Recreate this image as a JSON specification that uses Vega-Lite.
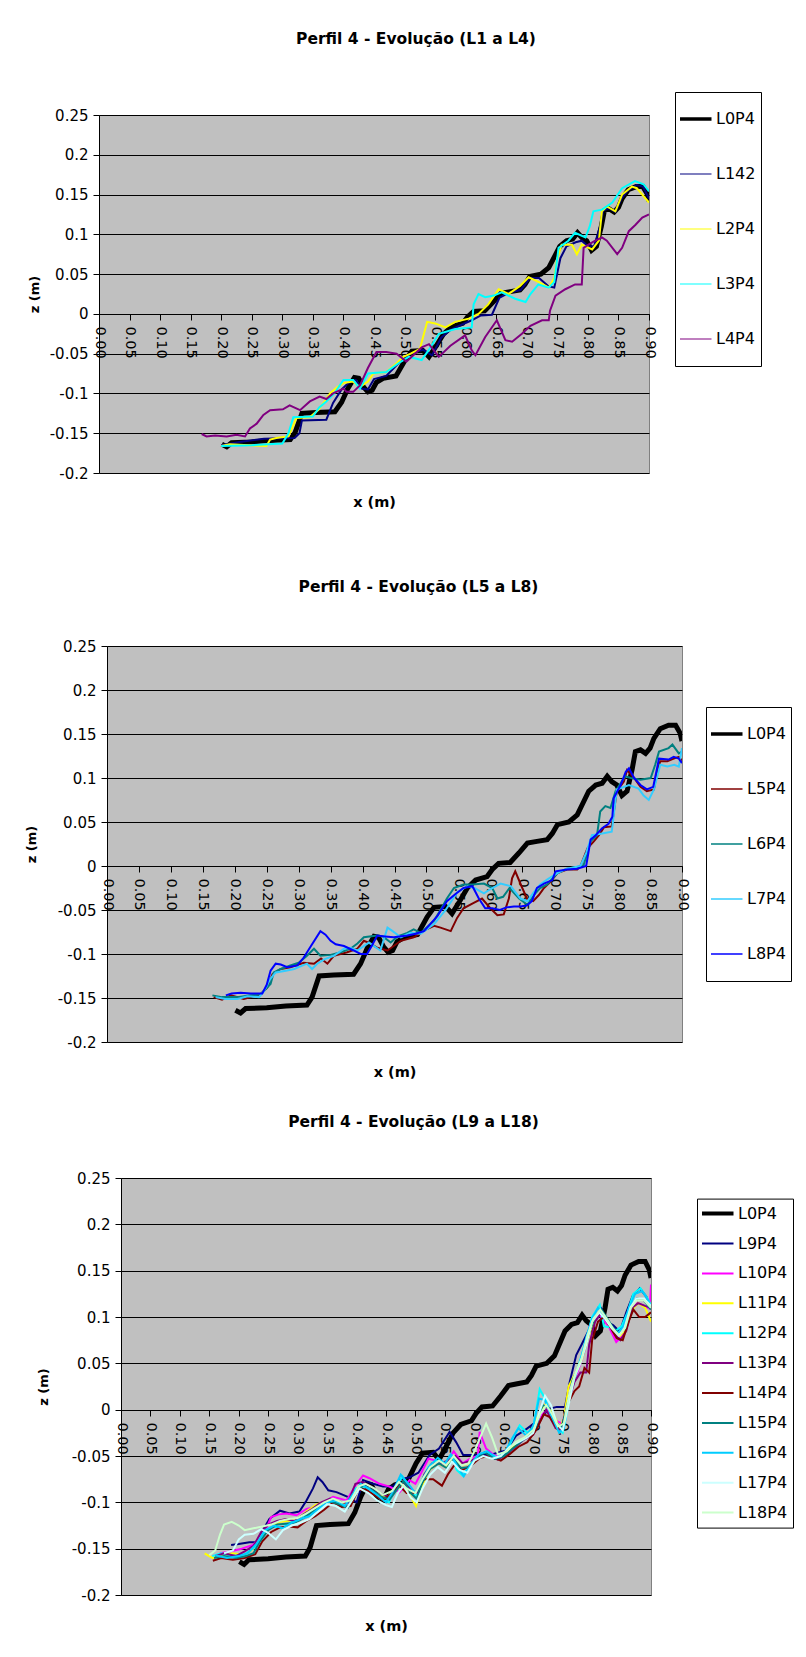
{
"$schema":"https://vega.github.io/schema/vega-lite/v6.json",
"padding":{"left":5,"top":31,"right":0,"bottom":0},
"background":"white",
"config":{
 "view":{"stroke":null},
 "font":"DejaVu Sans",
 "axis":{"labelFont":"DejaVu Sans","labelColor":"black","domainColor":"black","tickColor":"black","tickSize":6,"titleColor":"black","titleFont":"DejaVu Sans","titleFontWeight":"bold","labelOverlap":false,"labelFlush":false,"labelBound":false},
 "axisY":{"labelFontSize":15,"grid":true,"gridColor":"black","gridOpacity":1,"labelPadding":5,"titleFontSize":13},
 "axisX":{"labelFontSize":14.5,"grid":false,"labelAngle":90,"labelPadding":6,"titleFontSize":14.5,"titleBaseline":"alphabetic"},
 "legend":{"orient":"none","symbolType":"stroke","symbolSize":1225,"symbolOffset":6,"padding":5,"labelFont":"DejaVu Sans","labelFontSize":16,"labelColor":"black","labelOffset":14,"strokeColor":"black","fillColor":"white"},
 "title":{"font":"DejaVu Sans","fontSize":15.5,"fontWeight":"bold","color":"black","anchor":"middle","frame":"group"}
},
"datasets":{"d":[
{"s":"L0P4","x":0.201,"z":-0.164},{"s":"L0P4","x":0.209,"z":-0.167},{"s":"L0P4","x":0.217,"z":-0.162},{"s":"L0P4","x":0.25,"z":-0.161},{"s":"L0P4","x":0.28,"z":-0.159},{"s":"L0P4","x":0.313,"z":-0.158},{"s":"L0P4","x":0.321,"z":-0.149},{"s":"L0P4","x":0.332,"z":-0.125},{"s":"L0P4","x":0.355,"z":-0.124},{"s":"L0P4","x":0.386,"z":-0.123},{"s":"L0P4","x":0.397,"z":-0.111},{"s":"L0P4","x":0.407,"z":-0.094},{"s":"L0P4","x":0.418,"z":-0.08},{"s":"L0P4","x":0.425,"z":-0.081},{"s":"L0P4","x":0.433,"z":-0.092},{"s":"L0P4","x":0.44,"z":-0.098},{"s":"L0P4","x":0.447,"z":-0.096},{"s":"L0P4","x":0.454,"z":-0.086},{"s":"L0P4","x":0.465,"z":-0.081},{"s":"L0P4","x":0.486,"z":-0.078},{"s":"L0P4","x":0.501,"z":-0.058},{"s":"L0P4","x":0.512,"z":-0.047},{"s":"L0P4","x":0.53,"z":-0.046},{"s":"L0P4","x":0.54,"z":-0.054},{"s":"L0P4","x":0.552,"z":-0.04},{"s":"L0P4","x":0.564,"z":-0.025},{"s":"L0P4","x":0.577,"z":-0.016},{"s":"L0P4","x":0.595,"z":-0.012},{"s":"L0P4","x":0.603,"z":-0.004},{"s":"L0P4","x":0.613,"z":0.003},{"s":"L0P4","x":0.631,"z":0.004},{"s":"L0P4","x":0.645,"z":0.015},{"s":"L0P4","x":0.658,"z":0.026},{"s":"L0P4","x":0.673,"z":0.028},{"s":"L0P4","x":0.689,"z":0.03},{"s":"L0P4","x":0.697,"z":0.037},{"s":"L0P4","x":0.705,"z":0.047},{"s":"L0P4","x":0.723,"z":0.05},{"s":"L0P4","x":0.736,"z":0.058},{"s":"L0P4","x":0.746,"z":0.073},{"s":"L0P4","x":0.754,"z":0.085},{"s":"L0P4","x":0.765,"z":0.092},{"s":"L0P4","x":0.775,"z":0.094},{"s":"L0P4","x":0.783,"z":0.102},{"s":"L0P4","x":0.79,"z":0.096},{"s":"L0P4","x":0.798,"z":0.092},{"s":"L0P4","x":0.806,"z":0.08},{"s":"L0P4","x":0.814,"z":0.085},{"s":"L0P4","x":0.822,"z":0.11},{"s":"L0P4","x":0.827,"z":0.13},{"s":"L0P4","x":0.835,"z":0.132},{"s":"L0P4","x":0.843,"z":0.128},{"s":"L0P4","x":0.85,"z":0.134},{"s":"L0P4","x":0.856,"z":0.145},{"s":"L0P4","x":0.866,"z":0.156},{"s":"L0P4","x":0.879,"z":0.16},{"s":"L0P4","x":0.89,"z":0.16},{"s":"L0P4","x":0.897,"z":0.151},{"s":"L0P4","x":0.9,"z":0.142},
{"s":"L142","x":0.2,"z":-0.165},{"s":"L142","x":0.23,"z":-0.161},{"s":"L142","x":0.27,"z":-0.157},{"s":"L142","x":0.32,"z":-0.156},{"s":"L142","x":0.328,"z":-0.15},{"s":"L142","x":0.332,"z":-0.134},{"s":"L142","x":0.372,"z":-0.133},{"s":"L142","x":0.383,"z":-0.112},{"s":"L142","x":0.397,"z":-0.095},{"s":"L142","x":0.408,"z":-0.087},{"s":"L142","x":0.42,"z":-0.083},{"s":"L142","x":0.43,"z":-0.094},{"s":"L142","x":0.44,"z":-0.095},{"s":"L142","x":0.45,"z":-0.082},{"s":"L142","x":0.47,"z":-0.078},{"s":"L142","x":0.49,"z":-0.062},{"s":"L142","x":0.51,"z":-0.05},{"s":"L142","x":0.53,"z":-0.045},{"s":"L142","x":0.545,"z":-0.052},{"s":"L142","x":0.56,"z":-0.03},{"s":"L142","x":0.575,"z":-0.02},{"s":"L142","x":0.595,"z":-0.013},{"s":"L142","x":0.61,"z":-0.008},{"s":"L142","x":0.625,"z":-0.002},{"s":"L142","x":0.643,"z":-0.001},{"s":"L142","x":0.655,"z":0.02},{"s":"L142","x":0.672,"z":0.027},{"s":"L142","x":0.69,"z":0.03},{"s":"L142","x":0.705,"z":0.045},{"s":"L142","x":0.72,"z":0.045},{"s":"L142","x":0.735,"z":0.035},{"s":"L142","x":0.745,"z":0.033},{"s":"L142","x":0.755,"z":0.07},{"s":"L142","x":0.765,"z":0.085},{"s":"L142","x":0.78,"z":0.09},{"s":"L142","x":0.79,"z":0.092},{"s":"L142","x":0.8,"z":0.085},{"s":"L142","x":0.81,"z":0.085},{"s":"L142","x":0.82,"z":0.11},{"s":"L142","x":0.825,"z":0.13},{"s":"L142","x":0.835,"z":0.133},{"s":"L142","x":0.845,"z":0.128},{"s":"L142","x":0.855,"z":0.145},{"s":"L142","x":0.865,"z":0.155},{"s":"L142","x":0.88,"z":0.162},{"s":"L142","x":0.89,"z":0.16},{"s":"L142","x":0.9,"z":0.145},
{"s":"L2P4","x":0.2,"z":-0.166},{"s":"L2P4","x":0.214,"z":-0.164},{"s":"L2P4","x":0.245,"z":-0.165},{"s":"L2P4","x":0.274,"z":-0.166},{"s":"L2P4","x":0.28,"z":-0.158},{"s":"L2P4","x":0.29,"z":-0.156},{"s":"L2P4","x":0.31,"z":-0.154},{"s":"L2P4","x":0.318,"z":-0.14},{"s":"L2P4","x":0.323,"z":-0.131},{"s":"L2P4","x":0.345,"z":-0.13},{"s":"L2P4","x":0.36,"z":-0.12},{"s":"L2P4","x":0.378,"z":-0.1},{"s":"L2P4","x":0.39,"z":-0.092},{"s":"L2P4","x":0.4,"z":-0.087},{"s":"L2P4","x":0.415,"z":-0.085},{"s":"L2P4","x":0.427,"z":-0.092},{"s":"L2P4","x":0.44,"z":-0.085},{"s":"L2P4","x":0.449,"z":-0.075},{"s":"L2P4","x":0.47,"z":-0.073},{"s":"L2P4","x":0.487,"z":-0.062},{"s":"L2P4","x":0.498,"z":-0.054},{"s":"L2P4","x":0.51,"z":-0.05},{"s":"L2P4","x":0.525,"z":-0.044},{"s":"L2P4","x":0.53,"z":-0.03},{"s":"L2P4","x":0.537,"z":-0.01},{"s":"L2P4","x":0.55,"z":-0.012},{"s":"L2P4","x":0.567,"z":-0.017},{"s":"L2P4","x":0.583,"z":-0.01},{"s":"L2P4","x":0.605,"z":-0.006},{"s":"L2P4","x":0.621,"z":0.0},{"s":"L2P4","x":0.637,"z":0.012},{"s":"L2P4","x":0.654,"z":0.031},{"s":"L2P4","x":0.67,"z":0.025},{"s":"L2P4","x":0.689,"z":0.035},{"s":"L2P4","x":0.703,"z":0.046},{"s":"L2P4","x":0.72,"z":0.04},{"s":"L2P4","x":0.736,"z":0.033},{"s":"L2P4","x":0.745,"z":0.045},{"s":"L2P4","x":0.749,"z":0.067},{"s":"L2P4","x":0.757,"z":0.087},{"s":"L2P4","x":0.774,"z":0.087},{"s":"L2P4","x":0.782,"z":0.075},{"s":"L2P4","x":0.79,"z":0.087},{"s":"L2P4","x":0.807,"z":0.081},{"s":"L2P4","x":0.818,"z":0.092},{"s":"L2P4","x":0.823,"z":0.129},{"s":"L2P4","x":0.831,"z":0.135},{"s":"L2P4","x":0.845,"z":0.129},{"s":"L2P4","x":0.856,"z":0.15},{"s":"L2P4","x":0.872,"z":0.16},{"s":"L2P4","x":0.88,"z":0.158},{"s":"L2P4","x":0.891,"z":0.148},{"s":"L2P4","x":0.9,"z":0.14},
{"s":"L3P4","x":0.2,"z":-0.166},{"s":"L3P4","x":0.25,"z":-0.165},{"s":"L3P4","x":0.3,"z":-0.163},{"s":"L3P4","x":0.31,"z":-0.15},{"s":"L3P4","x":0.318,"z":-0.13},{"s":"L3P4","x":0.35,"z":-0.129},{"s":"L3P4","x":0.36,"z":-0.118},{"s":"L3P4","x":0.372,"z":-0.11},{"s":"L3P4","x":0.385,"z":-0.1},{"s":"L3P4","x":0.4,"z":-0.083},{"s":"L3P4","x":0.416,"z":-0.083},{"s":"L3P4","x":0.427,"z":-0.094},{"s":"L3P4","x":0.44,"z":-0.075},{"s":"L3P4","x":0.47,"z":-0.073},{"s":"L3P4","x":0.49,"z":-0.062},{"s":"L3P4","x":0.507,"z":-0.054},{"s":"L3P4","x":0.528,"z":-0.058},{"s":"L3P4","x":0.54,"z":-0.045},{"s":"L3P4","x":0.556,"z":-0.025},{"s":"L3P4","x":0.583,"z":-0.019},{"s":"L3P4","x":0.61,"z":-0.017},{"s":"L3P4","x":0.613,"z":0.012},{"s":"L3P4","x":0.621,"z":0.025},{"s":"L3P4","x":0.632,"z":0.021},{"s":"L3P4","x":0.646,"z":0.023},{"s":"L3P4","x":0.659,"z":0.027},{"s":"L3P4","x":0.681,"z":0.019},{"s":"L3P4","x":0.698,"z":0.015},{"s":"L3P4","x":0.706,"z":0.025},{"s":"L3P4","x":0.719,"z":0.037},{"s":"L3P4","x":0.736,"z":0.033},{"s":"L3P4","x":0.745,"z":0.04},{"s":"L3P4","x":0.752,"z":0.083},{"s":"L3P4","x":0.768,"z":0.092},{"s":"L3P4","x":0.779,"z":0.102},{"s":"L3P4","x":0.796,"z":0.096},{"s":"L3P4","x":0.803,"z":0.11},{"s":"L3P4","x":0.809,"z":0.129},{"s":"L3P4","x":0.823,"z":0.131},{"s":"L3P4","x":0.84,"z":0.14},{"s":"L3P4","x":0.856,"z":0.158},{"s":"L3P4","x":0.877,"z":0.167},{"s":"L3P4","x":0.891,"z":0.163},{"s":"L3P4","x":0.9,"z":0.154},
{"s":"L4P4","x":0.168,"z":-0.151},{"s":"L4P4","x":0.176,"z":-0.154},{"s":"L4P4","x":0.19,"z":-0.153},{"s":"L4P4","x":0.209,"z":-0.154},{"s":"L4P4","x":0.225,"z":-0.152},{"s":"L4P4","x":0.239,"z":-0.154},{"s":"L4P4","x":0.247,"z":-0.144},{"s":"L4P4","x":0.258,"z":-0.138},{"s":"L4P4","x":0.269,"z":-0.127},{"s":"L4P4","x":0.28,"z":-0.121},{"s":"L4P4","x":0.301,"z":-0.12},{"s":"L4P4","x":0.312,"z":-0.115},{"s":"L4P4","x":0.329,"z":-0.121},{"s":"L4P4","x":0.345,"z":-0.11},{"s":"L4P4","x":0.361,"z":-0.104},{"s":"L4P4","x":0.372,"z":-0.107},{"s":"L4P4","x":0.383,"z":-0.1},{"s":"L4P4","x":0.4,"z":-0.094},{"s":"L4P4","x":0.405,"z":-0.098},{"s":"L4P4","x":0.416,"z":-0.098},{"s":"L4P4","x":0.427,"z":-0.09},{"s":"L4P4","x":0.44,"z":-0.068},{"s":"L4P4","x":0.454,"z":-0.048},{"s":"L4P4","x":0.47,"z":-0.048},{"s":"L4P4","x":0.487,"z":-0.05},{"s":"L4P4","x":0.503,"z":-0.06},{"s":"L4P4","x":0.52,"z":-0.048},{"s":"L4P4","x":0.528,"z":-0.042},{"s":"L4P4","x":0.54,"z":-0.038},{"s":"L4P4","x":0.556,"z":-0.054},{"s":"L4P4","x":0.575,"z":-0.04},{"s":"L4P4","x":0.599,"z":-0.027},{"s":"L4P4","x":0.61,"z":-0.046},{"s":"L4P4","x":0.616,"z":-0.052},{"s":"L4P4","x":0.632,"z":-0.029},{"s":"L4P4","x":0.651,"z":-0.008},{"s":"L4P4","x":0.665,"z":-0.033},{"s":"L4P4","x":0.676,"z":-0.035},{"s":"L4P4","x":0.692,"z":-0.025},{"s":"L4P4","x":0.706,"z":-0.015},{"s":"L4P4","x":0.725,"z":-0.008},{"s":"L4P4","x":0.736,"z":-0.008},{"s":"L4P4","x":0.738,"z":0.004},{"s":"L4P4","x":0.747,"z":0.023},{"s":"L4P4","x":0.763,"z":0.031},{"s":"L4P4","x":0.779,"z":0.037},{"s":"L4P4","x":0.79,"z":0.037},{"s":"L4P4","x":0.793,"z":0.083},{"s":"L4P4","x":0.801,"z":0.087},{"s":"L4P4","x":0.812,"z":0.092},{"s":"L4P4","x":0.823,"z":0.096},{"s":"L4P4","x":0.831,"z":0.092},{"s":"L4P4","x":0.848,"z":0.075},{"s":"L4P4","x":0.856,"z":0.083},{"s":"L4P4","x":0.867,"z":0.104},{"s":"L4P4","x":0.878,"z":0.112},{"s":"L4P4","x":0.889,"z":0.121},{"s":"L4P4","x":0.9,"z":0.125},
{"s":"L5P4","x":0.167,"z":-0.149},{"s":"L5P4","x":0.18,"z":-0.152},{"s":"L5P4","x":0.194,"z":-0.147},{"s":"L5P4","x":0.214,"z":-0.151},{"s":"L5P4","x":0.24,"z":-0.146},{"s":"L5P4","x":0.251,"z":-0.138},{"s":"L5P4","x":0.259,"z":-0.123},{"s":"L5P4","x":0.272,"z":-0.117},{"s":"L5P4","x":0.287,"z":-0.115},{"s":"L5P4","x":0.308,"z":-0.11},{"s":"L5P4","x":0.324,"z":-0.111},{"s":"L5P4","x":0.335,"z":-0.105},{"s":"L5P4","x":0.345,"z":-0.111},{"s":"L5P4","x":0.355,"z":-0.102},{"s":"L5P4","x":0.376,"z":-0.098},{"s":"L5P4","x":0.392,"z":-0.094},{"s":"L5P4","x":0.402,"z":-0.085},{"s":"L5P4","x":0.412,"z":-0.088},{"s":"L5P4","x":0.423,"z":-0.093},{"s":"L5P4","x":0.439,"z":-0.096},{"s":"L5P4","x":0.46,"z":-0.085},{"s":"L5P4","x":0.48,"z":-0.081},{"s":"L5P4","x":0.5,"z":-0.072},{"s":"L5P4","x":0.512,"z":-0.068},{"s":"L5P4","x":0.522,"z":-0.07},{"s":"L5P4","x":0.538,"z":-0.074},{"s":"L5P4","x":0.548,"z":-0.059},{"s":"L5P4","x":0.558,"z":-0.048},{"s":"L5P4","x":0.574,"z":-0.042},{"s":"L5P4","x":0.587,"z":-0.037},{"s":"L5P4","x":0.6,"z":-0.048},{"s":"L5P4","x":0.611,"z":-0.056},{"s":"L5P4","x":0.621,"z":-0.055},{"s":"L5P4","x":0.629,"z":-0.037},{"s":"L5P4","x":0.634,"z":-0.014},{"s":"L5P4","x":0.639,"z":-0.006},{"s":"L5P4","x":0.65,"z":-0.025},{"s":"L5P4","x":0.658,"z":-0.038},{"s":"L5P4","x":0.667,"z":-0.04},{"s":"L5P4","x":0.676,"z":-0.033},{"s":"L5P4","x":0.684,"z":-0.025},{"s":"L5P4","x":0.694,"z":-0.018},{"s":"L5P4","x":0.705,"z":-0.008},{"s":"L5P4","x":0.72,"z":-0.004},{"s":"L5P4","x":0.736,"z":-0.004},{"s":"L5P4","x":0.741,"z":0.0},{"s":"L5P4","x":0.746,"z":0.009},{"s":"L5P4","x":0.752,"z":0.02},{"s":"L5P4","x":0.762,"z":0.028},{"s":"L5P4","x":0.77,"z":0.035},{"s":"L5P4","x":0.778,"z":0.044},{"s":"L5P4","x":0.79,"z":0.045},{"s":"L5P4","x":0.798,"z":0.085},{"s":"L5P4","x":0.809,"z":0.096},{"s":"L5P4","x":0.814,"z":0.109},{"s":"L5P4","x":0.825,"z":0.1},{"s":"L5P4","x":0.835,"z":0.09},{"s":"L5P4","x":0.845,"z":0.085},{"s":"L5P4","x":0.856,"z":0.087},{"s":"L5P4","x":0.861,"z":0.107},{"s":"L5P4","x":0.866,"z":0.119},{"s":"L5P4","x":0.877,"z":0.119},{"s":"L5P4","x":0.887,"z":0.122},{"s":"L5P4","x":0.895,"z":0.124},{"s":"L5P4","x":0.9,"z":0.12},
{"s":"L6P4","x":0.165,"z":-0.147},{"s":"L6P4","x":0.18,"z":-0.149},{"s":"L6P4","x":0.204,"z":-0.149},{"s":"L6P4","x":0.225,"z":-0.147},{"s":"L6P4","x":0.24,"z":-0.146},{"s":"L6P4","x":0.256,"z":-0.134},{"s":"L6P4","x":0.261,"z":-0.121},{"s":"L6P4","x":0.272,"z":-0.117},{"s":"L6P4","x":0.287,"z":-0.113},{"s":"L6P4","x":0.3,"z":-0.11},{"s":"L6P4","x":0.313,"z":-0.102},{"s":"L6P4","x":0.324,"z":-0.094},{"s":"L6P4","x":0.334,"z":-0.102},{"s":"L6P4","x":0.35,"z":-0.101},{"s":"L6P4","x":0.366,"z":-0.098},{"s":"L6P4","x":0.381,"z":-0.094},{"s":"L6P4","x":0.392,"z":-0.088},{"s":"L6P4","x":0.402,"z":-0.081},{"s":"L6P4","x":0.423,"z":-0.079},{"s":"L6P4","x":0.432,"z":-0.08},{"s":"L6P4","x":0.444,"z":-0.087},{"s":"L6P4","x":0.455,"z":-0.08},{"s":"L6P4","x":0.47,"z":-0.076},{"s":"L6P4","x":0.48,"z":-0.072},{"s":"L6P4","x":0.491,"z":-0.076},{"s":"L6P4","x":0.512,"z":-0.062},{"s":"L6P4","x":0.522,"z":-0.05},{"s":"L6P4","x":0.532,"z":-0.037},{"s":"L6P4","x":0.543,"z":-0.025},{"s":"L6P4","x":0.558,"z":-0.021},{"s":"L6P4","x":0.572,"z":-0.021},{"s":"L6P4","x":0.59,"z":-0.02},{"s":"L6P4","x":0.603,"z":-0.025},{"s":"L6P4","x":0.611,"z":-0.037},{"s":"L6P4","x":0.62,"z":-0.035},{"s":"L6P4","x":0.63,"z":-0.025},{"s":"L6P4","x":0.645,"z":-0.037},{"s":"L6P4","x":0.658,"z":-0.044},{"s":"L6P4","x":0.668,"z":-0.033},{"s":"L6P4","x":0.678,"z":-0.025},{"s":"L6P4","x":0.689,"z":-0.021},{"s":"L6P4","x":0.705,"z":-0.008},{"s":"L6P4","x":0.72,"z":-0.003},{"s":"L6P4","x":0.736,"z":-0.001},{"s":"L6P4","x":0.746,"z":0.001},{"s":"L6P4","x":0.757,"z":0.028},{"s":"L6P4","x":0.767,"z":0.035},{"s":"L6P4","x":0.772,"z":0.062},{"s":"L6P4","x":0.78,"z":0.068},{"s":"L6P4","x":0.788,"z":0.066},{"s":"L6P4","x":0.796,"z":0.085},{"s":"L6P4","x":0.811,"z":0.102},{"s":"L6P4","x":0.82,"z":0.1},{"s":"L6P4","x":0.835,"z":0.098},{"s":"L6P4","x":0.851,"z":0.1},{"s":"L6P4","x":0.858,"z":0.115},{"s":"L6P4","x":0.864,"z":0.13},{"s":"L6P4","x":0.879,"z":0.134},{"s":"L6P4","x":0.885,"z":0.138},{"s":"L6P4","x":0.895,"z":0.128},{"s":"L6P4","x":0.9,"z":0.13},
{"s":"L7P4","x":0.17,"z":-0.149},{"s":"L7P4","x":0.185,"z":-0.151},{"s":"L7P4","x":0.204,"z":-0.151},{"s":"L7P4","x":0.22,"z":-0.148},{"s":"L7P4","x":0.238,"z":-0.149},{"s":"L7P4","x":0.246,"z":-0.142},{"s":"L7P4","x":0.256,"z":-0.128},{"s":"L7P4","x":0.264,"z":-0.121},{"s":"L7P4","x":0.28,"z":-0.119},{"s":"L7P4","x":0.293,"z":-0.117},{"s":"L7P4","x":0.313,"z":-0.111},{"s":"L7P4","x":0.321,"z":-0.117},{"s":"L7P4","x":0.329,"z":-0.111},{"s":"L7P4","x":0.34,"z":-0.106},{"s":"L7P4","x":0.355,"z":-0.102},{"s":"L7P4","x":0.371,"z":-0.094},{"s":"L7P4","x":0.381,"z":-0.093},{"s":"L7P4","x":0.392,"z":-0.096},{"s":"L7P4","x":0.41,"z":-0.087},{"s":"L7P4","x":0.428,"z":-0.096},{"s":"L7P4","x":0.439,"z":-0.07},{"s":"L7P4","x":0.447,"z":-0.074},{"s":"L7P4","x":0.46,"z":-0.081},{"s":"L7P4","x":0.475,"z":-0.076},{"s":"L7P4","x":0.491,"z":-0.077},{"s":"L7P4","x":0.512,"z":-0.066},{"s":"L7P4","x":0.53,"z":-0.05},{"s":"L7P4","x":0.548,"z":-0.03},{"s":"L7P4","x":0.564,"z":-0.023},{"s":"L7P4","x":0.575,"z":-0.025},{"s":"L7P4","x":0.59,"z":-0.031},{"s":"L7P4","x":0.603,"z":-0.025},{"s":"L7P4","x":0.616,"z":-0.02},{"s":"L7P4","x":0.632,"z":-0.023},{"s":"L7P4","x":0.647,"z":-0.037},{"s":"L7P4","x":0.658,"z":-0.04},{"s":"L7P4","x":0.668,"z":-0.03},{"s":"L7P4","x":0.678,"z":-0.021},{"s":"L7P4","x":0.69,"z":-0.015},{"s":"L7P4","x":0.705,"z":-0.008},{"s":"L7P4","x":0.72,"z":-0.003},{"s":"L7P4","x":0.741,"z":0.0},{"s":"L7P4","x":0.75,"z":0.015},{"s":"L7P4","x":0.759,"z":0.035},{"s":"L7P4","x":0.775,"z":0.037},{"s":"L7P4","x":0.79,"z":0.039},{"s":"L7P4","x":0.798,"z":0.087},{"s":"L7P4","x":0.817,"z":0.092},{"s":"L7P4","x":0.832,"z":0.088},{"s":"L7P4","x":0.84,"z":0.08},{"s":"L7P4","x":0.848,"z":0.075},{"s":"L7P4","x":0.856,"z":0.087},{"s":"L7P4","x":0.866,"z":0.115},{"s":"L7P4","x":0.877,"z":0.113},{"s":"L7P4","x":0.888,"z":0.115},{"s":"L7P4","x":0.895,"z":0.113},{"s":"L7P4","x":0.9,"z":0.134},
{"s":"L8P4","x":0.186,"z":-0.147},{"s":"L8P4","x":0.195,"z":-0.145},{"s":"L8P4","x":0.209,"z":-0.144},{"s":"L8P4","x":0.225,"z":-0.145},{"s":"L8P4","x":0.243,"z":-0.145},{"s":"L8P4","x":0.25,"z":-0.135},{"s":"L8P4","x":0.256,"z":-0.119},{"s":"L8P4","x":0.264,"z":-0.111},{"s":"L8P4","x":0.272,"z":-0.112},{"s":"L8P4","x":0.282,"z":-0.115},{"s":"L8P4","x":0.298,"z":-0.113},{"s":"L8P4","x":0.308,"z":-0.104},{"s":"L8P4","x":0.32,"z":-0.09},{"s":"L8P4","x":0.334,"z":-0.074},{"s":"L8P4","x":0.342,"z":-0.078},{"s":"L8P4","x":0.35,"z":-0.085},{"s":"L8P4","x":0.358,"z":-0.089},{"s":"L8P4","x":0.371,"z":-0.091},{"s":"L8P4","x":0.386,"z":-0.096},{"s":"L8P4","x":0.397,"z":-0.1},{"s":"L8P4","x":0.407,"z":-0.1},{"s":"L8P4","x":0.415,"z":-0.09},{"s":"L8P4","x":0.423,"z":-0.079},{"s":"L8P4","x":0.435,"z":-0.08},{"s":"L8P4","x":0.449,"z":-0.081},{"s":"L8P4","x":0.47,"z":-0.079},{"s":"L8P4","x":0.483,"z":-0.077},{"s":"L8P4","x":0.496,"z":-0.074},{"s":"L8P4","x":0.506,"z":-0.066},{"s":"L8P4","x":0.517,"z":-0.057},{"s":"L8P4","x":0.532,"z":-0.04},{"s":"L8P4","x":0.545,"z":-0.032},{"s":"L8P4","x":0.558,"z":-0.025},{"s":"L8P4","x":0.572,"z":-0.023},{"s":"L8P4","x":0.582,"z":-0.037},{"s":"L8P4","x":0.592,"z":-0.048},{"s":"L8P4","x":0.603,"z":-0.048},{"s":"L8P4","x":0.615,"z":-0.05},{"s":"L8P4","x":0.625,"z":-0.047},{"s":"L8P4","x":0.637,"z":-0.046},{"s":"L8P4","x":0.647,"z":-0.046},{"s":"L8P4","x":0.657,"z":-0.045},{"s":"L8P4","x":0.665,"z":-0.04},{"s":"L8P4","x":0.673,"z":-0.025},{"s":"L8P4","x":0.684,"z":-0.02},{"s":"L8P4","x":0.697,"z":-0.016},{"s":"L8P4","x":0.702,"z":-0.006},{"s":"L8P4","x":0.72,"z":-0.004},{"s":"L8P4","x":0.736,"z":-0.003},{"s":"L8P4","x":0.75,"z":0.0},{"s":"L8P4","x":0.757,"z":0.03},{"s":"L8P4","x":0.765,"z":0.035},{"s":"L8P4","x":0.775,"z":0.043},{"s":"L8P4","x":0.785,"z":0.048},{"s":"L8P4","x":0.791,"z":0.056},{"s":"L8P4","x":0.793,"z":0.077},{"s":"L8P4","x":0.804,"z":0.092},{"s":"L8P4","x":0.812,"z":0.107},{"s":"L8P4","x":0.817,"z":0.111},{"s":"L8P4","x":0.825,"z":0.1},{"s":"L8P4","x":0.835,"z":0.092},{"s":"L8P4","x":0.845,"z":0.087},{"s":"L8P4","x":0.855,"z":0.09},{"s":"L8P4","x":0.864,"z":0.122},{"s":"L8P4","x":0.879,"z":0.121},{"s":"L8P4","x":0.887,"z":0.124},{"s":"L8P4","x":0.895,"z":0.122},{"s":"L8P4","x":0.9,"z":0.117},
{"s":"L9P4","x":0.187,"z":-0.146},{"s":"L9P4","x":0.2,"z":-0.145},{"s":"L9P4","x":0.218,"z":-0.143},{"s":"L9P4","x":0.232,"z":-0.143},{"s":"L9P4","x":0.241,"z":-0.13},{"s":"L9P4","x":0.252,"z":-0.118},{"s":"L9P4","x":0.27,"z":-0.109},{"s":"L9P4","x":0.286,"z":-0.112},{"s":"L9P4","x":0.303,"z":-0.11},{"s":"L9P4","x":0.315,"z":-0.098},{"s":"L9P4","x":0.326,"z":-0.085},{"s":"L9P4","x":0.334,"z":-0.073},{"s":"L9P4","x":0.342,"z":-0.078},{"s":"L9P4","x":0.352,"z":-0.087},{"s":"L9P4","x":0.366,"z":-0.089},{"s":"L9P4","x":0.385,"z":-0.094},{"s":"L9P4","x":0.4,"z":-0.1},{"s":"L9P4","x":0.405,"z":-0.09},{"s":"L9P4","x":0.411,"z":-0.076},{"s":"L9P4","x":0.428,"z":-0.08},{"s":"L9P4","x":0.445,"z":-0.083},{"s":"L9P4","x":0.462,"z":-0.083},{"s":"L9P4","x":0.475,"z":-0.075},{"s":"L9P4","x":0.49,"z":-0.073},{"s":"L9P4","x":0.505,"z":-0.068},{"s":"L9P4","x":0.524,"z":-0.049},{"s":"L9P4","x":0.54,"z":-0.042},{"s":"L9P4","x":0.558,"z":-0.024},{"s":"L9P4","x":0.569,"z":-0.035},{"s":"L9P4","x":0.581,"z":-0.049},{"s":"L9P4","x":0.603,"z":-0.049},{"s":"L9P4","x":0.626,"z":-0.049},{"s":"L9P4","x":0.654,"z":-0.044},{"s":"L9P4","x":0.671,"z":-0.028},{"s":"L9P4","x":0.686,"z":-0.022},{"s":"L9P4","x":0.705,"z":-0.013},{"s":"L9P4","x":0.728,"z":0.001},{"s":"L9P4","x":0.74,"z":0.003},{"s":"L9P4","x":0.754,"z":0.003},{"s":"L9P4","x":0.762,"z":0.03},{"s":"L9P4","x":0.773,"z":0.059},{"s":"L9P4","x":0.782,"z":0.07},{"s":"L9P4","x":0.796,"z":0.088},{"s":"L9P4","x":0.816,"z":0.109},{"s":"L9P4","x":0.825,"z":0.095},{"s":"L9P4","x":0.836,"z":0.091},{"s":"L9P4","x":0.847,"z":0.084},{"s":"L9P4","x":0.858,"z":0.105},{"s":"L9P4","x":0.869,"z":0.123},{"s":"L9P4","x":0.881,"z":0.131},{"s":"L9P4","x":0.892,"z":0.122},{"s":"L9P4","x":0.9,"z":0.109},
{"s":"L10P4","x":0.168,"z":-0.155},{"s":"L10P4","x":0.185,"z":-0.153},{"s":"L10P4","x":0.205,"z":-0.15},{"s":"L10P4","x":0.224,"z":-0.146},{"s":"L10P4","x":0.236,"z":-0.138},{"s":"L10P4","x":0.247,"z":-0.128},{"s":"L10P4","x":0.255,"z":-0.116},{"s":"L10P4","x":0.268,"z":-0.113},{"s":"L10P4","x":0.281,"z":-0.112},{"s":"L10P4","x":0.298,"z":-0.114},{"s":"L10P4","x":0.315,"z":-0.107},{"s":"L10P4","x":0.33,"z":-0.105},{"s":"L10P4","x":0.345,"z":-0.1},{"s":"L10P4","x":0.36,"z":-0.094},{"s":"L10P4","x":0.372,"z":-0.096},{"s":"L10P4","x":0.383,"z":-0.098},{"s":"L10P4","x":0.398,"z":-0.082},{"s":"L10P4","x":0.411,"z":-0.071},{"s":"L10P4","x":0.422,"z":-0.074},{"s":"L10P4","x":0.439,"z":-0.08},{"s":"L10P4","x":0.456,"z":-0.083},{"s":"L10P4","x":0.473,"z":-0.089},{"s":"L10P4","x":0.49,"z":-0.076},{"s":"L10P4","x":0.5,"z":-0.08},{"s":"L10P4","x":0.51,"z":-0.068},{"s":"L10P4","x":0.522,"z":-0.053},{"s":"L10P4","x":0.535,"z":-0.055},{"s":"L10P4","x":0.55,"z":-0.06},{"s":"L10P4","x":0.565,"z":-0.045},{"s":"L10P4","x":0.58,"z":-0.058},{"s":"L10P4","x":0.595,"z":-0.052},{"s":"L10P4","x":0.606,"z":-0.05},{"s":"L10P4","x":0.609,"z":-0.024},{"s":"L10P4","x":0.62,"z":-0.042},{"s":"L10P4","x":0.635,"z":-0.05},{"s":"L10P4","x":0.65,"z":-0.048},{"s":"L10P4","x":0.668,"z":-0.038},{"s":"L10P4","x":0.685,"z":-0.03},{"s":"L10P4","x":0.7,"z":-0.022},{"s":"L10P4","x":0.715,"z":-0.005},{"s":"L10P4","x":0.725,"z":0.0},{"s":"L10P4","x":0.738,"z":-0.012},{"s":"L10P4","x":0.75,"z":-0.015},{"s":"L10P4","x":0.762,"z":0.025},{"s":"L10P4","x":0.775,"z":0.04},{"s":"L10P4","x":0.788,"z":0.065},{"s":"L10P4","x":0.796,"z":0.091},{"s":"L10P4","x":0.813,"z":0.102},{"s":"L10P4","x":0.828,"z":0.09},{"s":"L10P4","x":0.841,"z":0.073},{"s":"L10P4","x":0.852,"z":0.08},{"s":"L10P4","x":0.862,"z":0.105},{"s":"L10P4","x":0.875,"z":0.116},{"s":"L10P4","x":0.888,"z":0.112},{"s":"L10P4","x":0.898,"z":0.109},{"s":"L10P4","x":0.9,"z":0.135},
{"s":"L11P4","x":0.142,"z":-0.155},{"s":"L11P4","x":0.155,"z":-0.16},{"s":"L11P4","x":0.17,"z":-0.158},{"s":"L11P4","x":0.19,"z":-0.155},{"s":"L11P4","x":0.21,"z":-0.157},{"s":"L11P4","x":0.225,"z":-0.15},{"s":"L11P4","x":0.24,"z":-0.135},{"s":"L11P4","x":0.255,"z":-0.127},{"s":"L11P4","x":0.27,"z":-0.121},{"s":"L11P4","x":0.285,"z":-0.12},{"s":"L11P4","x":0.3,"z":-0.118},{"s":"L11P4","x":0.315,"z":-0.11},{"s":"L11P4","x":0.33,"z":-0.103},{"s":"L11P4","x":0.345,"z":-0.099},{"s":"L11P4","x":0.36,"z":-0.097},{"s":"L11P4","x":0.375,"z":-0.102},{"s":"L11P4","x":0.39,"z":-0.098},{"s":"L11P4","x":0.405,"z":-0.082},{"s":"L11P4","x":0.418,"z":-0.085},{"s":"L11P4","x":0.435,"z":-0.092},{"s":"L11P4","x":0.45,"z":-0.095},{"s":"L11P4","x":0.465,"z":-0.088},{"s":"L11P4","x":0.478,"z":-0.08},{"s":"L11P4","x":0.49,"z":-0.092},{"s":"L11P4","x":0.501,"z":-0.104},{"s":"L11P4","x":0.51,"z":-0.085},{"s":"L11P4","x":0.522,"z":-0.066},{"s":"L11P4","x":0.538,"z":-0.058},{"s":"L11P4","x":0.552,"z":-0.062},{"s":"L11P4","x":0.565,"z":-0.05},{"s":"L11P4","x":0.58,"z":-0.06},{"s":"L11P4","x":0.595,"z":-0.057},{"s":"L11P4","x":0.61,"z":-0.05},{"s":"L11P4","x":0.63,"z":-0.052},{"s":"L11P4","x":0.648,"z":-0.05},{"s":"L11P4","x":0.665,"z":-0.04},{"s":"L11P4","x":0.68,"z":-0.033},{"s":"L11P4","x":0.695,"z":-0.025},{"s":"L11P4","x":0.71,"z":-0.005},{"s":"L11P4","x":0.72,"z":0.005},{"s":"L11P4","x":0.732,"z":-0.002},{"s":"L11P4","x":0.745,"z":-0.02},{"s":"L11P4","x":0.752,"z":-0.01},{"s":"L11P4","x":0.76,"z":0.025},{"s":"L11P4","x":0.772,"z":0.04},{"s":"L11P4","x":0.783,"z":0.055},{"s":"L11P4","x":0.792,"z":0.075},{"s":"L11P4","x":0.805,"z":0.1},{"s":"L11P4","x":0.815,"z":0.105},{"s":"L11P4","x":0.826,"z":0.095},{"s":"L11P4","x":0.838,"z":0.085},{"s":"L11P4","x":0.848,"z":0.08},{"s":"L11P4","x":0.858,"z":0.088},{"s":"L11P4","x":0.868,"z":0.108},{"s":"L11P4","x":0.878,"z":0.115},{"s":"L11P4","x":0.89,"z":0.11},{"s":"L11P4","x":0.9,"z":0.095},
{"s":"L12P4","x":0.155,"z":-0.158},{"s":"L12P4","x":0.17,"z":-0.155},{"s":"L12P4","x":0.19,"z":-0.158},{"s":"L12P4","x":0.21,"z":-0.156},{"s":"L12P4","x":0.228,"z":-0.148},{"s":"L12P4","x":0.242,"z":-0.133},{"s":"L12P4","x":0.258,"z":-0.126},{"s":"L12P4","x":0.272,"z":-0.128},{"s":"L12P4","x":0.288,"z":-0.122},{"s":"L12P4","x":0.302,"z":-0.118},{"s":"L12P4","x":0.318,"z":-0.113},{"s":"L12P4","x":0.335,"z":-0.108},{"s":"L12P4","x":0.352,"z":-0.098},{"s":"L12P4","x":0.368,"z":-0.1},{"s":"L12P4","x":0.385,"z":-0.105},{"s":"L12P4","x":0.398,"z":-0.085},{"s":"L12P4","x":0.41,"z":-0.083},{"s":"L12P4","x":0.425,"z":-0.088},{"s":"L12P4","x":0.44,"z":-0.096},{"s":"L12P4","x":0.455,"z":-0.1},{"s":"L12P4","x":0.468,"z":-0.082},{"s":"L12P4","x":0.478,"z":-0.072},{"s":"L12P4","x":0.49,"z":-0.085},{"s":"L12P4","x":0.5,"z":-0.093},{"s":"L12P4","x":0.51,"z":-0.078},{"s":"L12P4","x":0.522,"z":-0.062},{"s":"L12P4","x":0.535,"z":-0.055},{"s":"L12P4","x":0.55,"z":-0.058},{"s":"L12P4","x":0.562,"z":-0.05},{"s":"L12P4","x":0.57,"z":-0.065},{"s":"L12P4","x":0.58,"z":-0.071},{"s":"L12P4","x":0.592,"z":-0.06},{"s":"L12P4","x":0.605,"z":-0.05},{"s":"L12P4","x":0.62,"z":-0.045},{"s":"L12P4","x":0.64,"z":-0.052},{"s":"L12P4","x":0.655,"z":-0.045},{"s":"L12P4","x":0.67,"z":-0.025},{"s":"L12P4","x":0.677,"z":-0.017},{"s":"L12P4","x":0.69,"z":-0.025},{"s":"L12P4","x":0.7,"z":-0.02},{"s":"L12P4","x":0.711,"z":0.022},{"s":"L12P4","x":0.72,"z":0.012},{"s":"L12P4","x":0.73,"z":-0.005},{"s":"L12P4","x":0.742,"z":-0.02},{"s":"L12P4","x":0.75,"z":-0.025},{"s":"L12P4","x":0.758,"z":0.0},{"s":"L12P4","x":0.768,"z":0.03},{"s":"L12P4","x":0.778,"z":0.05},{"s":"L12P4","x":0.79,"z":0.075},{"s":"L12P4","x":0.8,"z":0.1},{"s":"L12P4","x":0.813,"z":0.113},{"s":"L12P4","x":0.82,"z":0.09},{"s":"L12P4","x":0.83,"z":0.089},{"s":"L12P4","x":0.84,"z":0.085},{"s":"L12P4","x":0.85,"z":0.09},{"s":"L12P4","x":0.86,"z":0.105},{"s":"L12P4","x":0.87,"z":0.125},{"s":"L12P4","x":0.882,"z":0.131},{"s":"L12P4","x":0.892,"z":0.122},{"s":"L12P4","x":0.9,"z":0.113},
{"s":"L13P4","x":0.16,"z":-0.158},{"s":"L13P4","x":0.175,"z":-0.155},{"s":"L13P4","x":0.195,"z":-0.158},{"s":"L13P4","x":0.21,"z":-0.153},{"s":"L13P4","x":0.225,"z":-0.147},{"s":"L13P4","x":0.238,"z":-0.132},{"s":"L13P4","x":0.25,"z":-0.124},{"s":"L13P4","x":0.265,"z":-0.12},{"s":"L13P4","x":0.28,"z":-0.118},{"s":"L13P4","x":0.295,"z":-0.12},{"s":"L13P4","x":0.31,"z":-0.113},{"s":"L13P4","x":0.325,"z":-0.107},{"s":"L13P4","x":0.34,"z":-0.1},{"s":"L13P4","x":0.355,"z":-0.096},{"s":"L13P4","x":0.37,"z":-0.099},{"s":"L13P4","x":0.385,"z":-0.101},{"s":"L13P4","x":0.398,"z":-0.08},{"s":"L13P4","x":0.41,"z":-0.078},{"s":"L13P4","x":0.425,"z":-0.083},{"s":"L13P4","x":0.44,"z":-0.09},{"s":"L13P4","x":0.455,"z":-0.094},{"s":"L13P4","x":0.468,"z":-0.085},{"s":"L13P4","x":0.48,"z":-0.078},{"s":"L13P4","x":0.495,"z":-0.088},{"s":"L13P4","x":0.505,"z":-0.09},{"s":"L13P4","x":0.515,"z":-0.07},{"s":"L13P4","x":0.528,"z":-0.058},{"s":"L13P4","x":0.542,"z":-0.058},{"s":"L13P4","x":0.555,"z":-0.055},{"s":"L13P4","x":0.568,"z":-0.05},{"s":"L13P4","x":0.58,"z":-0.058},{"s":"L13P4","x":0.595,"z":-0.055},{"s":"L13P4","x":0.61,"z":-0.05},{"s":"L13P4","x":0.625,"z":-0.05},{"s":"L13P4","x":0.64,"z":-0.054},{"s":"L13P4","x":0.655,"z":-0.048},{"s":"L13P4","x":0.67,"z":-0.04},{"s":"L13P4","x":0.685,"z":-0.032},{"s":"L13P4","x":0.7,"z":-0.027},{"s":"L13P4","x":0.712,"z":-0.012},{"s":"L13P4","x":0.722,"z":0.0},{"s":"L13P4","x":0.73,"z":-0.01},{"s":"L13P4","x":0.738,"z":-0.02},{"s":"L13P4","x":0.748,"z":-0.022},{"s":"L13P4","x":0.758,"z":0.005},{"s":"L13P4","x":0.77,"z":0.03},{"s":"L13P4","x":0.78,"z":0.04},{"s":"L13P4","x":0.79,"z":0.04},{"s":"L13P4","x":0.795,"z":0.07},{"s":"L13P4","x":0.805,"z":0.095},{"s":"L13P4","x":0.816,"z":0.105},{"s":"L13P4","x":0.826,"z":0.095},{"s":"L13P4","x":0.838,"z":0.082},{"s":"L13P4","x":0.848,"z":0.075},{"s":"L13P4","x":0.858,"z":0.085},{"s":"L13P4","x":0.868,"z":0.11},{"s":"L13P4","x":0.878,"z":0.115},{"s":"L13P4","x":0.89,"z":0.112},{"s":"L13P4","x":0.9,"z":0.11},
{"s":"L14P4","x":0.156,"z":-0.163},{"s":"L14P4","x":0.17,"z":-0.16},{"s":"L14P4","x":0.19,"z":-0.162},{"s":"L14P4","x":0.21,"z":-0.16},{"s":"L14P4","x":0.228,"z":-0.156},{"s":"L14P4","x":0.24,"z":-0.142},{"s":"L14P4","x":0.255,"z":-0.132},{"s":"L14P4","x":0.27,"z":-0.127},{"s":"L14P4","x":0.285,"z":-0.126},{"s":"L14P4","x":0.3,"z":-0.127},{"s":"L14P4","x":0.315,"z":-0.12},{"s":"L14P4","x":0.33,"z":-0.115},{"s":"L14P4","x":0.345,"z":-0.108},{"s":"L14P4","x":0.36,"z":-0.1},{"s":"L14P4","x":0.375,"z":-0.105},{"s":"L14P4","x":0.39,"z":-0.104},{"s":"L14P4","x":0.402,"z":-0.087},{"s":"L14P4","x":0.415,"z":-0.086},{"s":"L14P4","x":0.43,"z":-0.092},{"s":"L14P4","x":0.445,"z":-0.098},{"s":"L14P4","x":0.46,"z":-0.09},{"s":"L14P4","x":0.472,"z":-0.082},{"s":"L14P4","x":0.485,"z":-0.09},{"s":"L14P4","x":0.5,"z":-0.09},{"s":"L14P4","x":0.515,"z":-0.075},{"s":"L14P4","x":0.53,"z":-0.075},{"s":"L14P4","x":0.545,"z":-0.082},{"s":"L14P4","x":0.555,"z":-0.07},{"s":"L14P4","x":0.568,"z":-0.058},{"s":"L14P4","x":0.58,"z":-0.065},{"s":"L14P4","x":0.595,"z":-0.06},{"s":"L14P4","x":0.61,"z":-0.052},{"s":"L14P4","x":0.625,"z":-0.05},{"s":"L14P4","x":0.645,"z":-0.055},{"s":"L14P4","x":0.66,"z":-0.048},{"s":"L14P4","x":0.675,"z":-0.04},{"s":"L14P4","x":0.69,"z":-0.035},{"s":"L14P4","x":0.705,"z":-0.022},{"s":"L14P4","x":0.718,"z":-0.005},{"s":"L14P4","x":0.728,"z":-0.008},{"s":"L14P4","x":0.74,"z":-0.02},{"s":"L14P4","x":0.75,"z":-0.015},{"s":"L14P4","x":0.76,"z":0.008},{"s":"L14P4","x":0.77,"z":0.02},{"s":"L14P4","x":0.778,"z":0.025},{"s":"L14P4","x":0.787,"z":0.045},{"s":"L14P4","x":0.795,"z":0.04},{"s":"L14P4","x":0.8,"z":0.075},{"s":"L14P4","x":0.81,"z":0.095},{"s":"L14P4","x":0.82,"z":0.1},{"s":"L14P4","x":0.83,"z":0.09},{"s":"L14P4","x":0.842,"z":0.077},{"s":"L14P4","x":0.852,"z":0.075},{"s":"L14P4","x":0.862,"z":0.095},{"s":"L14P4","x":0.87,"z":0.108},{"s":"L14P4","x":0.88,"z":0.1},{"s":"L14P4","x":0.89,"z":0.1},{"s":"L14P4","x":0.9,"z":0.105},
{"s":"L15P4","x":0.158,"z":-0.16},{"s":"L15P4","x":0.175,"z":-0.158},{"s":"L15P4","x":0.195,"z":-0.16},{"s":"L15P4","x":0.212,"z":-0.158},{"s":"L15P4","x":0.225,"z":-0.155},{"s":"L15P4","x":0.235,"z":-0.143},{"s":"L15P4","x":0.25,"z":-0.13},{"s":"L15P4","x":0.265,"z":-0.124},{"s":"L15P4","x":0.28,"z":-0.123},{"s":"L15P4","x":0.295,"z":-0.122},{"s":"L15P4","x":0.31,"z":-0.117},{"s":"L15P4","x":0.325,"z":-0.11},{"s":"L15P4","x":0.34,"z":-0.104},{"s":"L15P4","x":0.355,"z":-0.099},{"s":"L15P4","x":0.37,"z":-0.102},{"s":"L15P4","x":0.385,"z":-0.106},{"s":"L15P4","x":0.4,"z":-0.087},{"s":"L15P4","x":0.412,"z":-0.082},{"s":"L15P4","x":0.428,"z":-0.087},{"s":"L15P4","x":0.442,"z":-0.094},{"s":"L15P4","x":0.456,"z":-0.097},{"s":"L15P4","x":0.47,"z":-0.085},{"s":"L15P4","x":0.48,"z":-0.077},{"s":"L15P4","x":0.492,"z":-0.09},{"s":"L15P4","x":0.502,"z":-0.096},{"s":"L15P4","x":0.512,"z":-0.078},{"s":"L15P4","x":0.525,"z":-0.064},{"s":"L15P4","x":0.54,"z":-0.058},{"s":"L15P4","x":0.553,"z":-0.063},{"s":"L15P4","x":0.565,"z":-0.053},{"s":"L15P4","x":0.578,"z":-0.063},{"s":"L15P4","x":0.59,"z":-0.062},{"s":"L15P4","x":0.605,"z":-0.052},{"s":"L15P4","x":0.618,"z":-0.046},{"s":"L15P4","x":0.635,"z":-0.053},{"s":"L15P4","x":0.65,"z":-0.05},{"s":"L15P4","x":0.665,"z":-0.042},{"s":"L15P4","x":0.68,"z":-0.034},{"s":"L15P4","x":0.693,"z":-0.028},{"s":"L15P4","x":0.705,"z":-0.018},{"s":"L15P4","x":0.716,"z":0.005},{"s":"L15P4","x":0.726,"z":0.002},{"s":"L15P4","x":0.736,"z":-0.012},{"s":"L15P4","x":0.748,"z":-0.02},{"s":"L15P4","x":0.756,"z":0.0},{"s":"L15P4","x":0.766,"z":0.03},{"s":"L15P4","x":0.776,"z":0.045},{"s":"L15P4","x":0.786,"z":0.062},{"s":"L15P4","x":0.796,"z":0.085},{"s":"L15P4","x":0.806,"z":0.102},{"s":"L15P4","x":0.816,"z":0.108},{"s":"L15P4","x":0.826,"z":0.098},{"s":"L15P4","x":0.836,"z":0.088},{"s":"L15P4","x":0.846,"z":0.082},{"s":"L15P4","x":0.856,"z":0.088},{"s":"L15P4","x":0.866,"z":0.112},{"s":"L15P4","x":0.876,"z":0.12},{"s":"L15P4","x":0.888,"z":0.118},{"s":"L15P4","x":0.9,"z":0.108},
{"s":"L16P4","x":0.16,"z":-0.157},{"s":"L16P4","x":0.18,"z":-0.16},{"s":"L16P4","x":0.2,"z":-0.158},{"s":"L16P4","x":0.215,"z":-0.155},{"s":"L16P4","x":0.23,"z":-0.145},{"s":"L16P4","x":0.245,"z":-0.13},{"s":"L16P4","x":0.26,"z":-0.125},{"s":"L16P4","x":0.275,"z":-0.128},{"s":"L16P4","x":0.29,"z":-0.122},{"s":"L16P4","x":0.305,"z":-0.118},{"s":"L16P4","x":0.32,"z":-0.115},{"s":"L16P4","x":0.335,"z":-0.107},{"s":"L16P4","x":0.35,"z":-0.1},{"s":"L16P4","x":0.365,"z":-0.098},{"s":"L16P4","x":0.38,"z":-0.104},{"s":"L16P4","x":0.395,"z":-0.09},{"s":"L16P4","x":0.407,"z":-0.08},{"s":"L16P4","x":0.42,"z":-0.085},{"s":"L16P4","x":0.435,"z":-0.092},{"s":"L16P4","x":0.45,"z":-0.1},{"s":"L16P4","x":0.462,"z":-0.088},{"s":"L16P4","x":0.475,"z":-0.07},{"s":"L16P4","x":0.488,"z":-0.08},{"s":"L16P4","x":0.5,"z":-0.09},{"s":"L16P4","x":0.512,"z":-0.075},{"s":"L16P4","x":0.525,"z":-0.06},{"s":"L16P4","x":0.538,"z":-0.052},{"s":"L16P4","x":0.55,"z":-0.058},{"s":"L16P4","x":0.56,"z":-0.048},{"s":"L16P4","x":0.572,"z":-0.062},{"s":"L16P4","x":0.582,"z":-0.072},{"s":"L16P4","x":0.595,"z":-0.058},{"s":"L16P4","x":0.608,"z":-0.048},{"s":"L16P4","x":0.622,"z":-0.045},{"s":"L16P4","x":0.637,"z":-0.052},{"s":"L16P4","x":0.652,"z":-0.046},{"s":"L16P4","x":0.665,"z":-0.03},{"s":"L16P4","x":0.675,"z":-0.02},{"s":"L16P4","x":0.688,"z":-0.028},{"s":"L16P4","x":0.7,"z":-0.018},{"s":"L16P4","x":0.71,"z":0.012},{"s":"L16P4","x":0.72,"z":0.01},{"s":"L16P4","x":0.732,"z":-0.008},{"s":"L16P4","x":0.744,"z":-0.025},{"s":"L16P4","x":0.752,"z":-0.02},{"s":"L16P4","x":0.76,"z":0.01},{"s":"L16P4","x":0.77,"z":0.035},{"s":"L16P4","x":0.78,"z":0.052},{"s":"L16P4","x":0.79,"z":0.078},{"s":"L16P4","x":0.8,"z":0.098},{"s":"L16P4","x":0.81,"z":0.11},{"s":"L16P4","x":0.822,"z":0.1},{"s":"L16P4","x":0.832,"z":0.09},{"s":"L16P4","x":0.843,"z":0.082},{"s":"L16P4","x":0.853,"z":0.09},{"s":"L16P4","x":0.863,"z":0.11},{"s":"L16P4","x":0.873,"z":0.125},{"s":"L16P4","x":0.885,"z":0.128},{"s":"L16P4","x":0.895,"z":0.118},{"s":"L16P4","x":0.9,"z":0.11},
{"s":"L17P4","x":0.175,"z":-0.155},{"s":"L17P4","x":0.19,"z":-0.152},{"s":"L17P4","x":0.2,"z":-0.14},{"s":"L17P4","x":0.21,"z":-0.135},{"s":"L17P4","x":0.225,"z":-0.134},{"s":"L17P4","x":0.238,"z":-0.129},{"s":"L17P4","x":0.25,"z":-0.133},{"s":"L17P4","x":0.263,"z":-0.14},{"s":"L17P4","x":0.275,"z":-0.13},{"s":"L17P4","x":0.29,"z":-0.125},{"s":"L17P4","x":0.305,"z":-0.122},{"s":"L17P4","x":0.32,"z":-0.118},{"s":"L17P4","x":0.335,"z":-0.11},{"s":"L17P4","x":0.35,"z":-0.102},{"s":"L17P4","x":0.365,"z":-0.104},{"s":"L17P4","x":0.38,"z":-0.11},{"s":"L17P4","x":0.395,"z":-0.095},{"s":"L17P4","x":0.405,"z":-0.085},{"s":"L17P4","x":0.42,"z":-0.09},{"s":"L17P4","x":0.435,"z":-0.098},{"s":"L17P4","x":0.45,"z":-0.103},{"s":"L17P4","x":0.46,"z":-0.105},{"s":"L17P4","x":0.47,"z":-0.09},{"s":"L17P4","x":0.48,"z":-0.082},{"s":"L17P4","x":0.492,"z":-0.095},{"s":"L17P4","x":0.502,"z":-0.1},{"s":"L17P4","x":0.512,"z":-0.085},{"s":"L17P4","x":0.525,"z":-0.07},{"s":"L17P4","x":0.538,"z":-0.062},{"s":"L17P4","x":0.55,"z":-0.068},{"s":"L17P4","x":0.562,"z":-0.056},{"s":"L17P4","x":0.575,"z":-0.065},{"s":"L17P4","x":0.588,"z":-0.068},{"s":"L17P4","x":0.6,"z":-0.055},{"s":"L17P4","x":0.615,"z":-0.05},{"s":"L17P4","x":0.63,"z":-0.053},{"s":"L17P4","x":0.645,"z":-0.05},{"s":"L17P4","x":0.66,"z":-0.04},{"s":"L17P4","x":0.675,"z":-0.035},{"s":"L17P4","x":0.69,"z":-0.03},{"s":"L17P4","x":0.7,"z":-0.025},{"s":"L17P4","x":0.712,"z":0.0},{"s":"L17P4","x":0.72,"z":0.015},{"s":"L17P4","x":0.73,"z":0.005},{"s":"L17P4","x":0.74,"z":-0.015},{"s":"L17P4","x":0.75,"z":-0.022},{"s":"L17P4","x":0.76,"z":0.005},{"s":"L17P4","x":0.77,"z":0.035},{"s":"L17P4","x":0.78,"z":0.05},{"s":"L17P4","x":0.79,"z":0.07},{"s":"L17P4","x":0.8,"z":0.095},{"s":"L17P4","x":0.812,"z":0.105},{"s":"L17P4","x":0.822,"z":0.098},{"s":"L17P4","x":0.833,"z":0.088},{"s":"L17P4","x":0.845,"z":0.08},{"s":"L17P4","x":0.855,"z":0.088},{"s":"L17P4","x":0.865,"z":0.11},{"s":"L17P4","x":0.875,"z":0.12},{"s":"L17P4","x":0.888,"z":0.12},{"s":"L17P4","x":0.9,"z":0.112},
{"s":"L18P4","x":0.15,"z":-0.157},{"s":"L18P4","x":0.16,"z":-0.152},{"s":"L18P4","x":0.168,"z":-0.135},{"s":"L18P4","x":0.175,"z":-0.124},{"s":"L18P4","x":0.188,"z":-0.121},{"s":"L18P4","x":0.2,"z":-0.125},{"s":"L18P4","x":0.21,"z":-0.13},{"s":"L18P4","x":0.225,"z":-0.128},{"s":"L18P4","x":0.24,"z":-0.126},{"s":"L18P4","x":0.255,"z":-0.124},{"s":"L18P4","x":0.27,"z":-0.12},{"s":"L18P4","x":0.285,"z":-0.118},{"s":"L18P4","x":0.3,"z":-0.117},{"s":"L18P4","x":0.315,"z":-0.112},{"s":"L18P4","x":0.33,"z":-0.106},{"s":"L18P4","x":0.345,"z":-0.1},{"s":"L18P4","x":0.36,"z":-0.096},{"s":"L18P4","x":0.375,"z":-0.1},{"s":"L18P4","x":0.39,"z":-0.098},{"s":"L18P4","x":0.403,"z":-0.083},{"s":"L18P4","x":0.415,"z":-0.08},{"s":"L18P4","x":0.43,"z":-0.085},{"s":"L18P4","x":0.445,"z":-0.092},{"s":"L18P4","x":0.46,"z":-0.088},{"s":"L18P4","x":0.472,"z":-0.078},{"s":"L18P4","x":0.485,"z":-0.085},{"s":"L18P4","x":0.5,"z":-0.09},{"s":"L18P4","x":0.512,"z":-0.075},{"s":"L18P4","x":0.525,"z":-0.062},{"s":"L18P4","x":0.54,"z":-0.055},{"s":"L18P4","x":0.552,"z":-0.06},{"s":"L18P4","x":0.565,"z":-0.05},{"s":"L18P4","x":0.578,"z":-0.06},{"s":"L18P4","x":0.59,"z":-0.058},{"s":"L18P4","x":0.6,"z":-0.045},{"s":"L18P4","x":0.61,"z":-0.03},{"s":"L18P4","x":0.62,"z":-0.015},{"s":"L18P4","x":0.63,"z":-0.03},{"s":"L18P4","x":0.64,"z":-0.048},{"s":"L18P4","x":0.655,"z":-0.045},{"s":"L18P4","x":0.67,"z":-0.035},{"s":"L18P4","x":0.685,"z":-0.03},{"s":"L18P4","x":0.7,"z":-0.022},{"s":"L18P4","x":0.712,"z":-0.005},{"s":"L18P4","x":0.722,"z":0.005},{"s":"L18P4","x":0.732,"z":-0.005},{"s":"L18P4","x":0.742,"z":-0.018},{"s":"L18P4","x":0.752,"z":-0.015},{"s":"L18P4","x":0.762,"z":0.02},{"s":"L18P4","x":0.772,"z":0.04},{"s":"L18P4","x":0.782,"z":0.055},{"s":"L18P4","x":0.792,"z":0.08},{"s":"L18P4","x":0.802,"z":0.098},{"s":"L18P4","x":0.814,"z":0.108},{"s":"L18P4","x":0.825,"z":0.098},{"s":"L18P4","x":0.836,"z":0.087},{"s":"L18P4","x":0.846,"z":0.08},{"s":"L18P4","x":0.856,"z":0.088},{"s":"L18P4","x":0.866,"z":0.11},{"s":"L18P4","x":0.876,"z":0.118},{"s":"L18P4","x":0.888,"z":0.118},{"s":"L18P4","x":0.9,"z":0.11}
]},
"resolve":{"scale":{"color":"independent","x":"independent","y":"independent"},"legend":{"color":"independent"}},
"spacing":34,
"vconcat":[
{"spacing":70,
 "resolve":{"scale":{"color":"independent","x":"independent","y":"independent"},"legend":{"color":"independent"}},
 "vconcat":[
  {"spacing":0,
   "resolve":{"scale":{"color":"independent","x":"independent","y":"independent"},"legend":{"color":"independent"}},
   "hconcat":[
    {"width":22,"height":1,"data":{"values":[]},"mark":"point"},
    {"width":550,"height":358,
     "view":{"fill":"#c0c0c0","stroke":"#808080"},
     "title":{"text":"Perfil 4 - Evolução (L1 a L4)","offset":44,"dx":42},
     "data":{"name":"d"},
     "transform":[{"filter":{"field":"s","oneOf":["L0P4","L142","L2P4","L3P4","L4P4"]}}],
     "mark":{"type":"line","clip":true},
     "encoding":{
      "x":{"field":"x","type":"quantitative","scale":{"domain":[0,0.9],"nice":false,"zero":false},
           "axis":{"values":[0,0.05,0.1,0.15,0.2,0.25,0.3,0.35,0.4,0.45,0.5,0.55,0.6,0.65,0.7,0.75,0.8,0.85,0.9],"format":".2f","offset":-159,"title":"x (m)","titleY":192}},
      "y":{"field":"z","type":"quantitative","scale":{"domain":[-0.2,0.25],"nice":false,"zero":false},
           "axis":{"values":[-0.2,-0.15,-0.1,-0.05,0,0.05,0.1,0.15,0.2,0.25],"labelExpr":"toString(datum.value)","title":"z (m)","titleX":-57.7}},
      "color":{"field":"s","type":"nominal","scale":{"domain":["L0P4","L142","L2P4","L3P4","L4P4"],"range":["#000000","#000080","#FFFF00","#00FFFF","#800080"]},
           "legend":{"title":null,"legendX":576,"legendY":-23,"clipHeight":44,"rowPadding":11,
                     "encode":{"symbols":{"update":{"strokeWidth":{"signal":"datum.value === 'L0P4' ? 3.5 : 1.2"}}}}}},
      "strokeWidth":{"condition":{"test":"datum.s === 'L0P4'","value":5},"value":2}
     }
    }
   ]
  },
  {"spacing":0,
   "resolve":{"scale":{"color":"independent","x":"independent","y":"independent"},"legend":{"color":"independent"}},
   "hconcat":[
    {"width":20,"height":1,"data":{"values":[]},"mark":"point"},
    {"width":575,"height":396,
     "view":{"fill":"#c0c0c0","stroke":"#808080"},
     "title":{"text":"Perfil 4 - Evolução (L5 a L8)","offset":44,"dx":24},
     "data":{"name":"d"},
     "transform":[{"filter":{"field":"s","oneOf":["L0P4","L5P4","L6P4","L7P4","L8P4"]}}],
     "mark":{"type":"line","clip":true},
     "encoding":{
      "x":{"field":"x","type":"quantitative","scale":{"domain":[0,0.9],"nice":false,"zero":false},
           "axis":{"values":[0,0.05,0.1,0.15,0.2,0.25,0.3,0.35,0.4,0.45,0.5,0.55,0.6,0.65,0.7,0.75,0.8,0.85,0.9],"format":".2f","offset":-176,"title":"x (m)","titleY":210.6}},
      "y":{"field":"z","type":"quantitative","scale":{"domain":[-0.2,0.25],"nice":false,"zero":false},
           "axis":{"values":[-0.2,-0.15,-0.1,-0.05,0,0.05,0.1,0.15,0.2,0.25],"labelExpr":"toString(datum.value)","title":"z (m)","titleX":-68.3}},
      "color":{"field":"s","type":"nominal","scale":{"domain":["L0P4","L5P4","L6P4","L7P4","L8P4"],"range":["#000000","#800000","#008080","#33CCFF","#0000FF"]},
           "legend":{"title":null,"legendX":599,"legendY":61,"clipHeight":44,"rowPadding":11,
                     "encode":{"symbols":{"update":{"strokeWidth":{"signal":"datum.value === 'L0P4' ? 3.5 : 1.5"}}}}}},
      "strokeWidth":{"condition":{"test":"datum.s === 'L0P4'","value":5},"value":2}
     }
    }
   ]
  }
 ]
},
{"spacing":0,
 "resolve":{"scale":{"color":"independent","x":"independent","y":"independent"},"legend":{"color":"independent"}},
 "hconcat":[
  {"width":32,"height":1,"data":{"values":[]},"mark":"point"},
  {"width":530,"height":417,
   "view":{"fill":"#c0c0c0","stroke":"#808080"},
   "title":{"text":"Perfil 4 - Evolução (L9 a L18)","offset":41,"dx":27.5},
   "data":{"name":"d"},
   "transform":[{"filter":{"field":"s","oneOf":["L0P4","L9P4","L10P4","L11P4","L12P4","L13P4","L14P4","L15P4","L16P4","L17P4","L18P4"]}}],
   "mark":{"type":"line","clip":true},
   "encoding":{
    "x":{"field":"x","type":"quantitative","scale":{"domain":[0,0.9],"nice":false,"zero":false},
         "axis":{"values":[0,0.05,0.1,0.15,0.2,0.25,0.3,0.35,0.4,0.45,0.5,0.55,0.6,0.65,0.7,0.75,0.8,0.85,0.9],"format":".2f","offset":-185,"title":"x (m)","titleY":220.4}},
    "y":{"field":"z","type":"quantitative","scale":{"domain":[-0.2,0.25],"nice":false,"zero":false},
         "axis":{"values":[-0.2,-0.15,-0.1,-0.05,0,0.05,0.1,0.15,0.2,0.25],"labelExpr":"toString(datum.value)","title":"z (m)","titleX":-70.3}},
    "color":{"field":"s","type":"nominal","scale":{"domain":["L0P4","L9P4","L10P4","L11P4","L12P4","L13P4","L14P4","L15P4","L16P4","L17P4","L18P4"],"range":["#000000","#000080","#FF00FF","#FFFF00","#00FFFF","#800080","#800000","#008080","#00CCFF","#CCFFFF","#CCFFCC"]},
         "legend":{"title":null,"legendX":576,"legendY":20.6,"clipHeight":20,"rowPadding":9.9,
                   "encode":{"symbols":{"update":{"strokeWidth":{"signal":"datum.value === 'L0P4' ? 4 : 2"}}}}}},
    "strokeWidth":{"condition":{"test":"datum.s === 'L0P4'","value":5},"value":2}
   }
  }
 ]
}
]
}
